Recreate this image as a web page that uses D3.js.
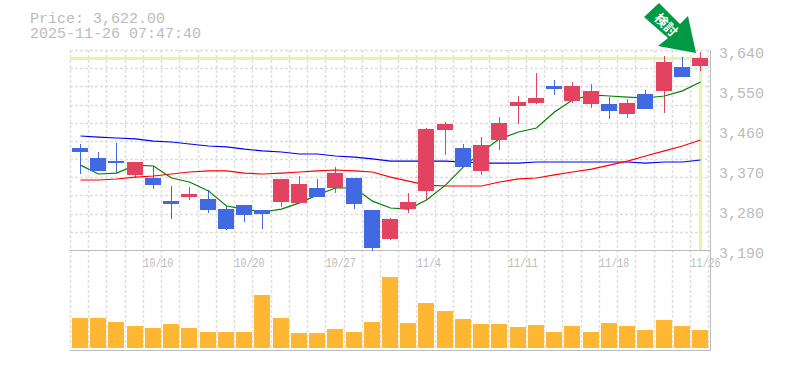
<!DOCTYPE html>
<html><head><meta charset="utf-8">
<script src="https://cdn.jsdelivr.net/npm/d3@7/dist/d3.min.js"></script>
<style>html,body{margin:0;background:#fff}svg{display:block}</style></head>
<body><svg id="c" width="785" height="370"></svg>
<script>
const dates=["10/6","10/7","10/8","10/9","10/10","10/14","10/15","10/16","10/17","10/20","10/21","10/22","10/23","10/24","10/27","10/28","10/29","10/30","10/31","11/4","11/5","11/6","11/7","11/10","11/11","11/12","11/13","11/14","11/17","11/18","11/19","11/20","11/21","11/25","11/26"];
const labelDates=["10/10","10/20","10/27","11/4","11/11","11/18","11/26"];
const open=[3419.5,3397,3390,3358.5,3352,3300,3309,3305,3282,3291,3280,3298,3296,3329.5,3329.5,3352,3280,3215,3282,3323,3460,3419.5,3368,3437.5,3514,3521,3559,3525,3518.5,3518.5,3496,3541,3548,3602,3604];
const close=[3410.5,3368,3385.5,3388,3336,3293.5,3316,3280,3237,3269,3271,3350,3338.5,3309,3363,3293.5,3194.5,3260,3298,3462,3473.5,3377,3426,3476,3523,3532,3552,3559,3548,3503,3521,3507,3613,3579,3622];
const high=[3428.5,3410.5,3431,3388,3379,3334,3332,3325,3289,3291,3280,3350,3356.5,3350,3377,3352,3280,3262,3318,3464.5,3478,3428.5,3444,3489,3536.5,3588,3572.5,3568,3563.5,3534,3530,3550,3626.5,3624,3635.5];
const low=[3361,3368,3363,3352,3327,3260,3302.5,3273,3235,3253,3237,3287,3296,3309,3318,3282,3188,3212.5,3273,3302.5,3404,3377,3358.5,3415,3473.5,3518.5,3539,3521,3509.5,3485,3487,3507,3498,3579,3593];
const maShort=[3381,3361,3363,3381,3379,3352,3343,3323,3289,3282,3275.5,3282,3296,3314,3329.5,3329.5,3300,3284.5,3282,3302.5,3336,3377,3410.5,3440,3455.5,3464.5,3500.5,3527.5,3539,3536.5,3534,3532,3536.5,3548,3568];
const maMid=[3347.5,3347.5,3349.75,3354,3356.5,3361,3365.5,3368,3368,3363,3361,3363,3365.5,3368,3370,3368,3365.5,3354,3345,3336,3334,3334,3334,3343,3350,3352,3359,3365.5,3372,3381,3390,3401.5,3413,3424,3437.5];
const maLong=[3446.5,3444,3442,3440,3435,3433,3428.5,3424,3422,3417,3413,3410.5,3406,3406,3401.5,3399,3395,3390,3390,3390,3390,3388,3385.5,3385.5,3385.5,3388,3388,3388,3388,3388,3388,3385.5,3388,3388,3392.5];
const volume=[30,30,26,22,20,24,20,16,16,16,53,30,15,15,19,16,26,71,25,45,37,29,24,24,21,23,16,22,16,25,22,18,28,22,18];
const priceTicks=[3190,3280,3370,3460,3550,3640];
const lastPrice=3622;
const titleLines=["Price: 3,622.00","2025-11-26 07:47:40"];
const markText="検討";

const GRID="#dedede",AXIS="#bbb",TXT="#bbb",UP="#e24360",DOWN="#4169e1",MARK="#e4f5a8",MONO="'Liberation Mono',monospace";
const svg=d3.select("#c");
const idx=d3.range(dates.length);
const x=d3.scaleLinear().domain([0,dates.length-1]).range([80,700]);
const y=d3.scaleLinear().domain([3190,3640]).range([250,50]);
const yv=d3.scaleLinear().domain([0,100]).range([348,248]);
const left=i=>Math.round(x(i)-8);
const gridX=d3.range(dates.length+1).map(i=>Math.floor(70.5+i*18.235)+.5);
const gridY=d3.range(0,11).map(i=>Math.round(50+i*200/11)+.5);

const g0=svg.append("g");
g0.selectAll(".gx").data(gridX).join("line").attr("x1",d=>d).attr("x2",d=>d).attr("y1",50).attr("y2",350)
 .attr("stroke",GRID).attr("stroke-width",1.5).attr("stroke-dasharray","3 2");
g0.selectAll(".gy").data(gridY).join("line").attr("x1",70).attr("x2",710).attr("y1",d=>d).attr("y2",d=>d)
 .attr("stroke",GRID).attr("stroke-width",1.5).attr("stroke-dasharray","3 2");

const g=svg.append("g").attr("shape-rendering","crispEdges");
// last price marker
g.append("line").attr("x1",70).attr("x2",702).attr("y1",y(lastPrice)).attr("y2",y(lastPrice)).attr("stroke",MARK).attr("stroke-width",3);
g.append("line").attr("x1",700.5).attr("x2",700.5).attr("y1",y(lastPrice)).attr("y2",250).attr("stroke",MARK).attr("stroke-width",3);

// frame
[[70,250.5,710,250.5],[70,350.5,710,350.5],[710.5,50,710.5,351]].forEach(a=>g.append("line")
 .attr("x1",a[0]).attr("y1",a[1]).attr("x2",a[2]).attr("y2",a[3]).attr("stroke",AXIS));

// volume
g.selectAll(".v").data(idx).join("rect").attr("x",left).attr("width",16)
 .attr("y",i=>yv(volume[i])).attr("height",i=>yv(0)-yv(volume[i])).attr("fill","#ffb733");

// candles
const col=i=>close[i]>=open[i]?UP:DOWN;
g.selectAll(".w").data(idx).join("rect").attr("x",i=>left(i)+8).attr("width",1)
 .attr("y",i=>y(high[i])).attr("height",i=>y(low[i])-y(high[i])).attr("fill",col);

// moving averages
const line=d3.line().x((d,i)=>left(i)+8.5).y(d=>y(d));
[[maLong,"#0000ff"],[maMid,"#ff0000"],[maShort,"#008000"]].forEach(([s,c])=>
 svg.append("path").attr("d",line(s)).attr("fill","none").attr("stroke",c).attr("stroke-width",1.2));

const g2=svg.append("g").attr("shape-rendering","crispEdges");
g2.selectAll(".b").data(idx).join("rect").attr("x",left).attr("width",16)
 .attr("y",i=>y(Math.max(open[i],close[i]))).attr("height",i=>Math.max(1,Math.abs(y(open[i])-y(close[i])))).attr("fill",col);

// axes
const ay=svg.append("g").attr("transform","translate(719,3)").call(d3.axisRight(y).tickValues(priceTicks).tickSize(0).tickPadding(0).tickFormat(d3.format(",")));
ay.select(".domain").remove();
ay.selectAll("text").attr("font-family",MONO).attr("font-size",15).attr("fill",TXT).attr("dy","0.32em");
const ax=svg.append("g").attr("transform","translate(0,258)").call(
 d3.axisBottom(d3.scalePoint().domain(dates).range([80,700])).tickValues(labelDates).tickSize(0).tickPadding(0));
ax.select(".domain").remove();
ax.selectAll("text").attr("font-family",MONO).attr("font-size",12).attr("fill",TXT).attr("text-anchor","start")
 .attr("transform","translate(-10,0) scale(.83,1)").attr("dy","0.71em");

// title
svg.selectAll(".t").data(titleLines).join("text").attr("x",30).attr("y",(d,i)=>23+i*15)
 .attr("font-family",MONO).attr("font-size",15).attr("fill",TXT).text(d=>d);

// arrow mark
const m=svg.append("g");
m.append("path").attr("d","M659,3 L644,17 L668,38 L658,46 L696,53 L688,16 L680,24 Z").attr("fill","#009944");
m.append("text").attr("transform","translate(666,25) rotate(45)").attr("text-anchor","middle").attr("dy","0.35em")
 .attr("font-family","'Noto Sans CJK JP'").attr("font-weight",700).attr("font-size",13).attr("fill","#fff").text(markText);
</script></body></html>
